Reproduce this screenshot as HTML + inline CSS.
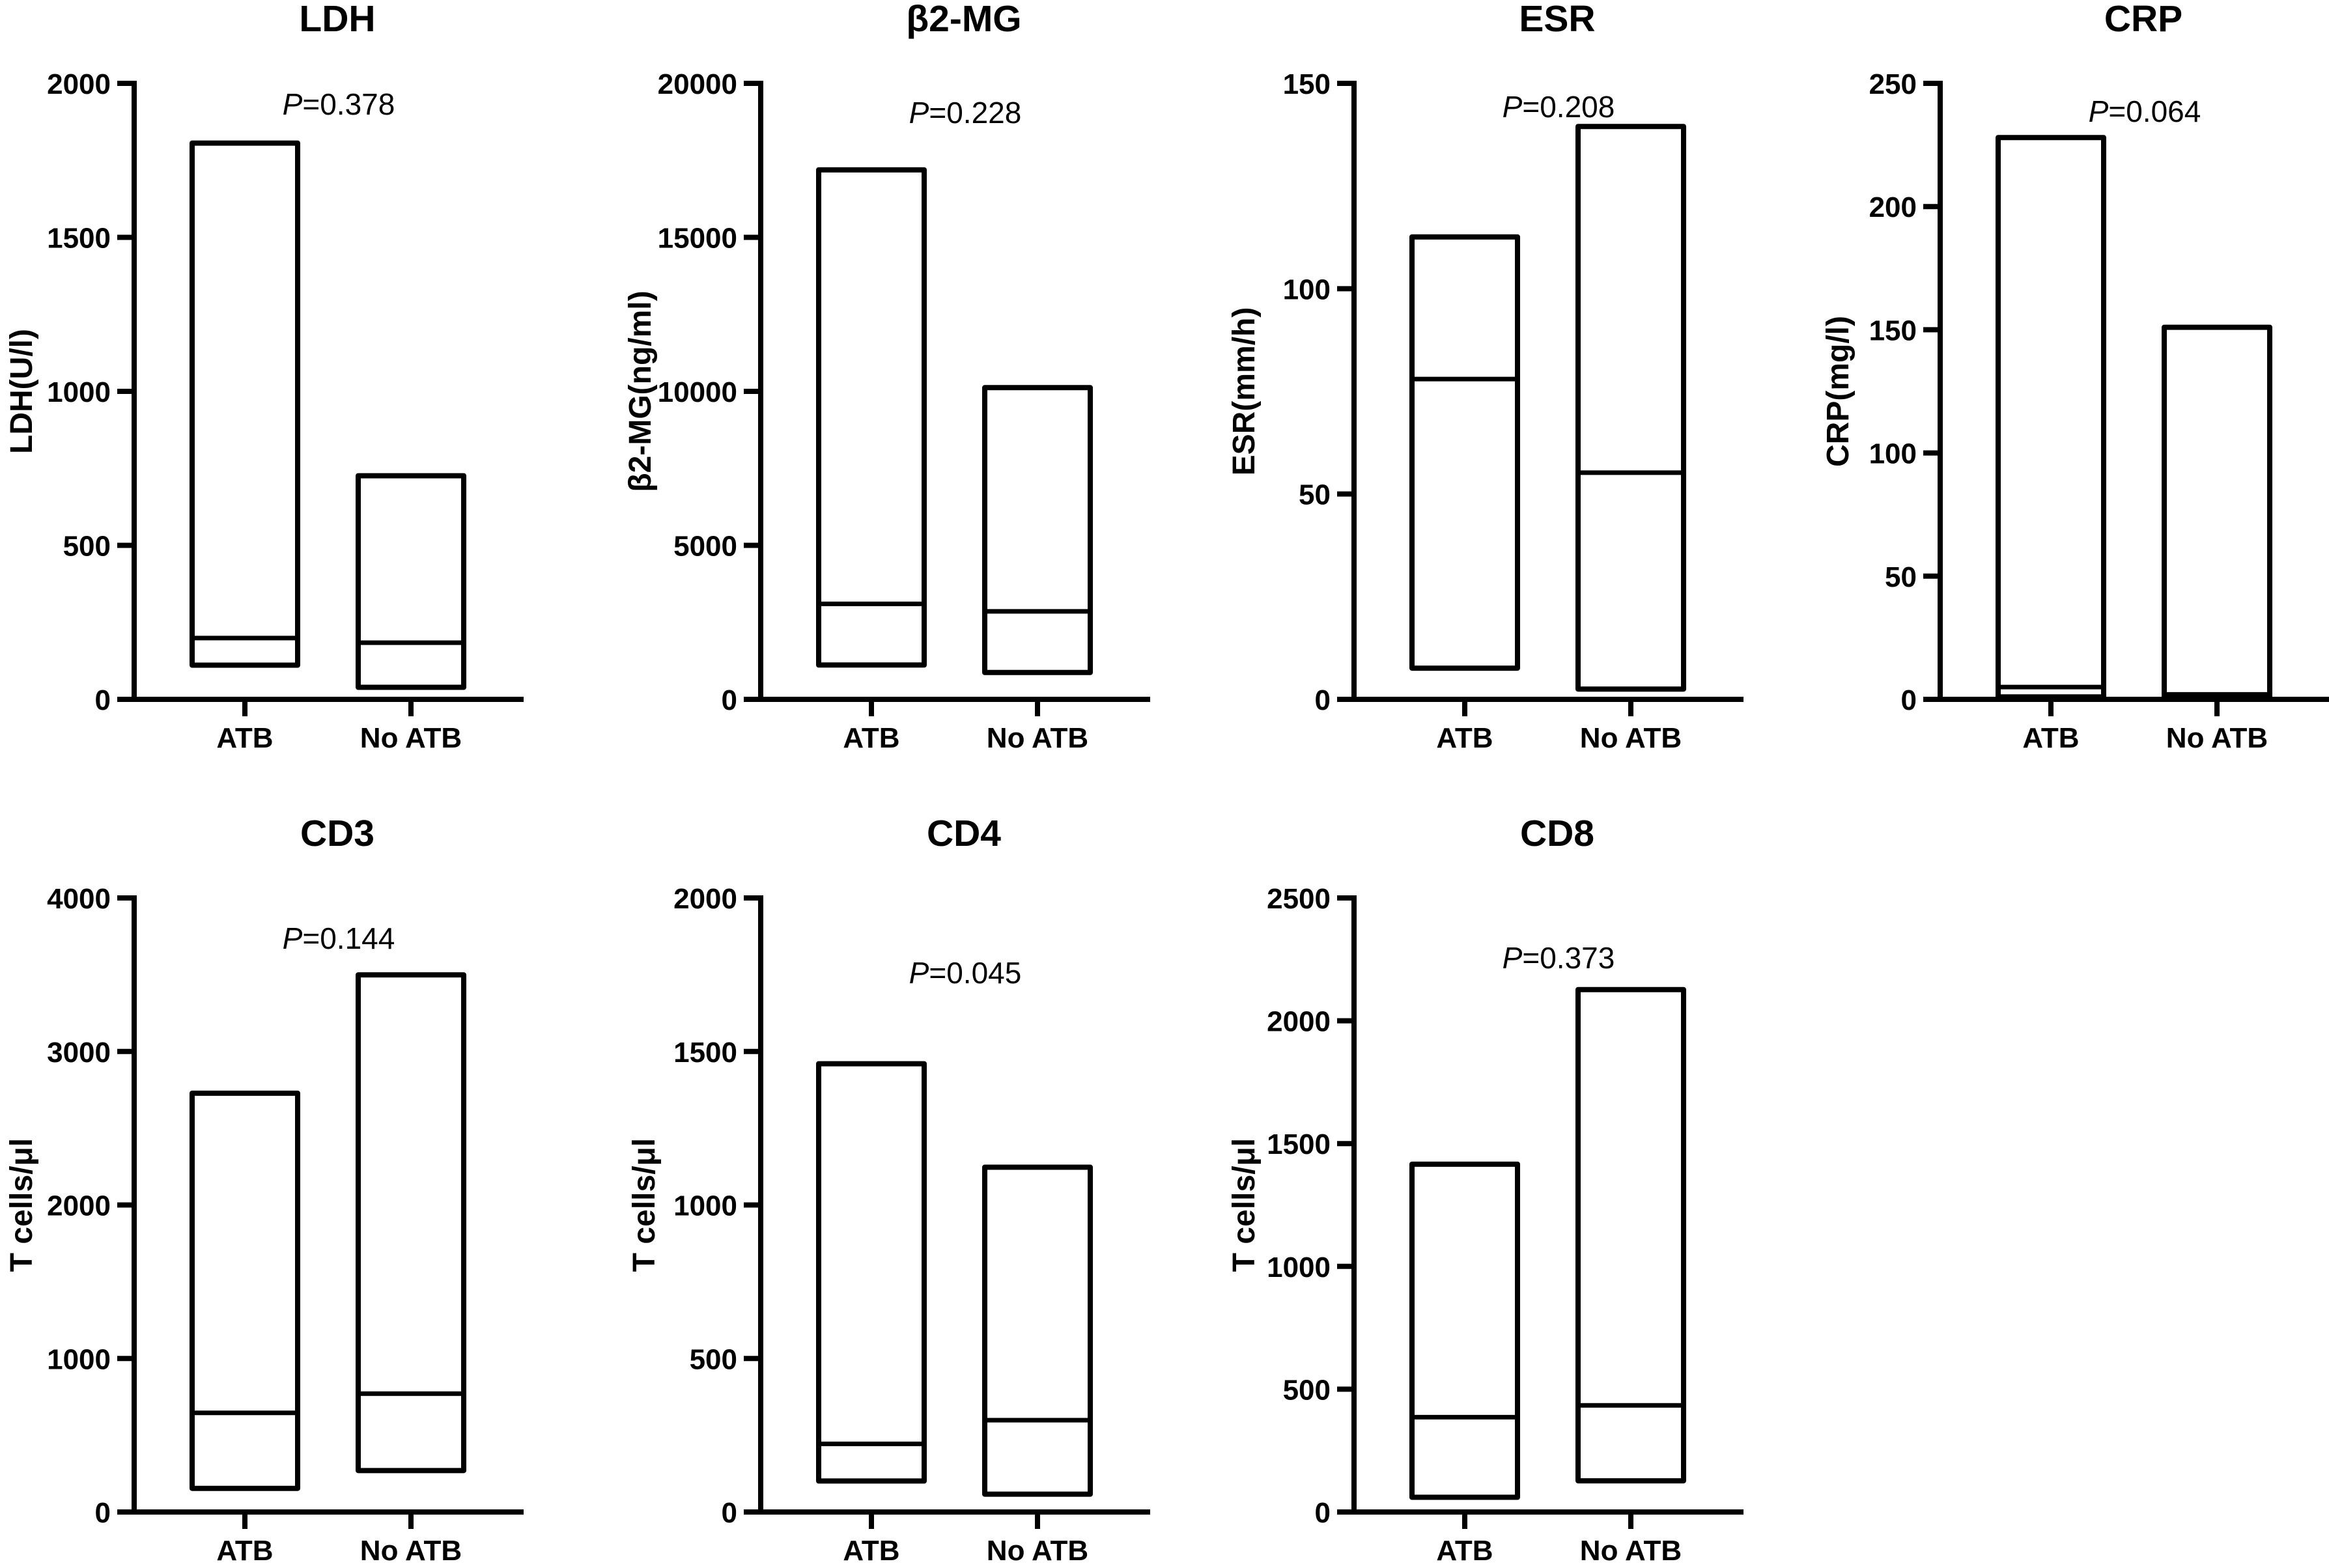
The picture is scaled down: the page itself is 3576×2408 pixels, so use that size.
<!DOCTYPE html>
<html><head><meta charset="utf-8">
<style>
html,body{margin:0;padding:0;background:#fff;}
svg{display:block;}
text{font-family:"Liberation Sans",Arial,sans-serif;fill:#000;}
</style></head>
<body>
<svg id="fig" width="3576" height="2408" viewBox="0 0 3576 2408" xmlns="http://www.w3.org/2000/svg"></svg>
<script>
const panelTitles = ["LDH","β2-MG","ESR","CRP","CD3","CD4","CD8"];
const yTitles = ["LDH(U/l)","β2-MG(ng/ml)","ESR(mm/h)","CRP(mg/l)","T cells/μl","T cells/μl","T cells/μl"];
const pValues = ["0.378","0.228","0.208","0.064","0.144","0.045","0.373"];
const yMax = [2000,20000,150,250,4000,2000,2500];
const yStep = [500,5000,50,50,1000,500,500];
const categories = ["ATB","No ATB"];
const atbMax = [1806,17191,112.6,228,2728,1460,1416];
const atbMedian = [199,3099,78,5,646,222,386];
const atbMin = [111,1114,7.6,1,154,101,60];
const noAtbMax = [726,10121,139.5,151,3499,1123,2127];
const noAtbMedian = [184,2857,55.2,2,771,299,434];
const noAtbMin = [39,872,2.5,1,270,58,127];
const pY = [160,173,164,171,1441,1494,1471];

const NS="http://www.w3.org/2000/svg";
const svg=document.getElementById('fig');
function mk(tag,attrs,parent){const e=document.createElementNS(NS,tag);for(const k in attrs)e.setAttribute(k,attrs[k]);(parent||svg).appendChild(e);return e;}

const axisX=[206,1168,2079,2979,206,1168,2079];
const yTitleOff=[174,186,170,158,174,180,170];
const rows=[{top:128,zero:1074},{top:1379,zero:2322}];

for(let i=0;i<7;i++){
  const A=axisX[i], r=rows[i<4?0:1];
  const g=mk('g',{});
  
  
  const y=v=>r.zero-(v/yMax[i])*(r.zero-r.top);
  const xc=[A+170,A+425];
  const t=mk('text',{x:A+312,y:r.top-80,'text-anchor':'middle','font-size':57,'font-weight':'bold'},g);
  t.textContent=panelTitles[i];
  
  
  const yt=mk('text',{x:0,y:0,'text-anchor':'middle','font-size':48,'font-weight':'bold',transform:`translate(${A-yTitleOff[i]+17},${(r.top+r.zero)/2}) rotate(-90)`},g);
  yt.textContent=yTitles[i];
  
  
  const ya=mk('line',{x1:A,y1:r.top-4,x2:A,y2:r.zero+4,stroke:'#000','stroke-width':8},g);
  
  
  const xa=mk('line',{x1:A-4,y1:r.zero,x2:A+598,y2:r.zero,stroke:'#000','stroke-width':8},g);
  
  
  for(let v=0;v<=yMax[i]+1e-9;v+=yStep[i]){
    const yy=y(v);
    const tk=mk('line',{x1:A-26,y1:yy,x2:A,y2:yy,stroke:'#000','stroke-width':8},g);
    
    
    const tl=mk('text',{x:A-36,y:yy+16,'text-anchor':'end','font-size':44,'font-weight':'bold'},g);
    tl.textContent=String(v);
    
    
  }
  const mx=[atbMax[i],noAtbMax[i]], md=[atbMedian[i],noAtbMedian[i]], mn=[atbMin[i],noAtbMin[i]];
  for(let c=0;c<2;c++){
    const ct=mk('line',{x1:xc[c],y1:r.zero,x2:xc[c],y2:r.zero+26,stroke:'#000','stroke-width':8},g);
    
    
    const cl=mk('text',{x:xc[c],y:r.zero+74,'text-anchor':'middle','font-size':44,'font-weight':'bold'},g);
    cl.textContent=categories[c];
    
    
    const bx=mk('rect',{x:xc[c]-81,y:y(mx[c]),width:162,height:Math.max(1,y(mn[c])-y(mx[c])),fill:'none',stroke:'#000','stroke-width':8,'stroke-linejoin':'round'},g);
    
    
    const ml=mk('line',{x1:xc[c]-81,y1:y(md[c]),x2:xc[c]+81,y2:y(md[c]),stroke:'#000','stroke-width':7},g);
    
    
  }
  const p=mk('text',{x:A+314,y:pY[i]+16,'text-anchor':'middle','font-size':46},g);
  const pi=mk('tspan',{'font-style':'italic'},p); pi.textContent='P';
  const pr=mk('tspan',{},p); pr.textContent='='+pValues[i];
  
  
}
</script>
</body></html>
